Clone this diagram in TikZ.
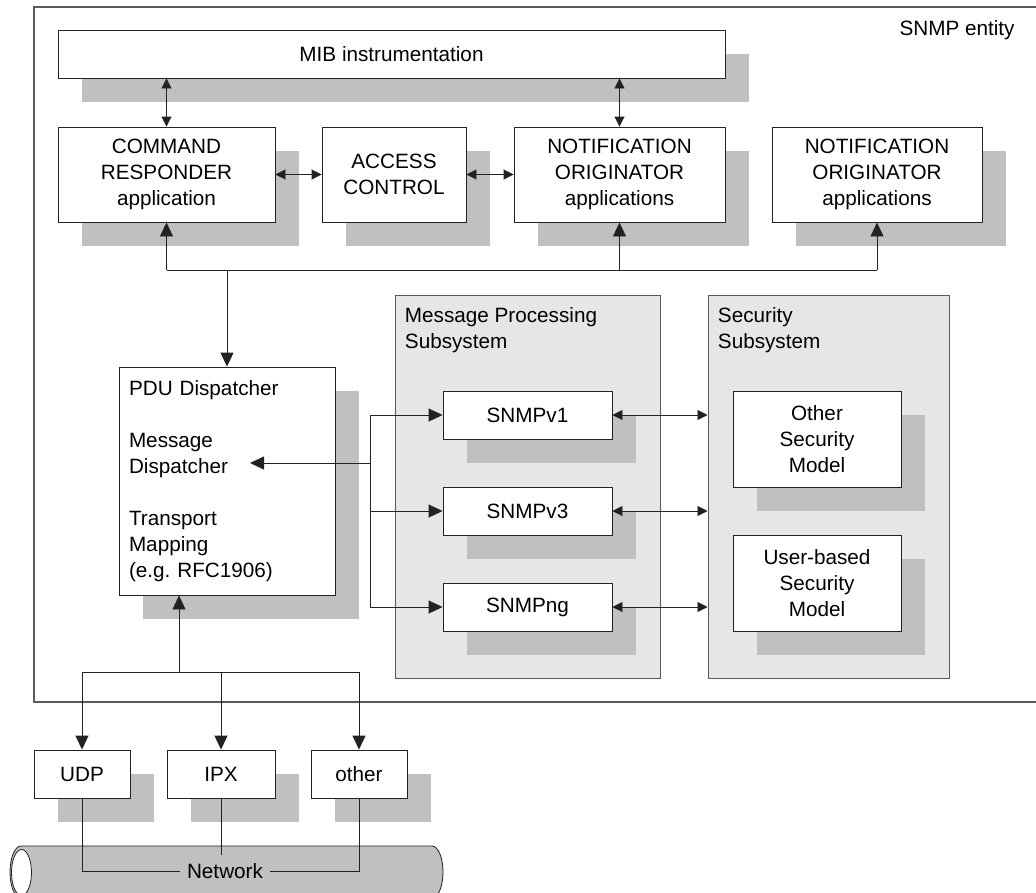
\documentclass[tikz,border=0pt]{standalone}
\usepackage{fontspec}
\setmainfont{Liberation Sans}
\usetikzlibrary{arrows.meta,shadows}
\definecolor{shadegray}{HTML}{C0C0C0}
\definecolor{subfill}{HTML}{E6E6E6}
\definecolor{framegray}{HTML}{5A5A5A}
\definecolor{ink}{HTML}{222222}
\frenchspacing
\begin{document}
\begin{tikzpicture}[x=1pt,y=-1pt,
  font=\fontsize{20.7}{26}\selectfont,
  line width=0.9pt, draw=ink,
  box/.style={draw=ink, fill=white, rectangle, inner sep=0pt, align=center,
    general shadow={fill=shadegray, draw=none, shadow xshift=24pt, shadow yshift=-24pt}},
  subsys/.style={draw=framegray, fill=subfill, rectangle, inner sep=0pt, line width=1pt},
  big/.style={-{Triangle[length=14pt,width=13pt]}},
  dbl/.style={{Triangle[length=10pt,width=10pt]}-{Triangle[length=10pt,width=10pt]}},
  lbl/.style={inner sep=0pt, align=left}
]
\useasboundingbox (0,0) rectangle (1036,892);
\clip (0,0) rectangle (1036,892);
\fill[white] (0,0) rectangle (1036,892);

% SNMP entity frame
\draw[framegray, line width=1.3pt] (34,7) rectangle (1060,702);
\node[anchor=base east, inner sep=0pt] (entlabel) at (1015,35) {SNMP entity};

% top row
\node[box, minimum width=667pt, minimum height=48pt] (mib) at (391.5,54) {MIB instrumentation};
\node[box, minimum width=217pt, minimum height=95pt] (cr) at (166.5,174.5) {COMMAND\\RESPONDER\\application};
\node[box, minimum width=144pt, minimum height=95pt] (ac) at (394,174.5) {ACCESS\\CONTROL};
\node[box, minimum width=211pt, minimum height=95pt] (no1) at (619.5,174.5) {NOTIFICATION\\ORIGINATOR\\applications};
\node[box, minimum width=210pt, minimum height=95pt] (no2) at (877,174.5) {NOTIFICATION\\ORIGINATOR\\applications};

% subsystems
\node[subsys, minimum width=265pt, minimum height=383pt] (mp) at (527.5,486.5) {};
\node[lbl, anchor=north west] (mplabel) at ([shift={(10pt,-13pt)}]mp.north west) {Message Processing\\Subsystem};
\node[subsys, minimum width=241pt, minimum height=383pt] (ss) at (828.5,486.5) {};
\node[lbl, anchor=north west] (sslabel) at ([shift={(10pt,-13pt)}]ss.north west) {Security\\Subsystem};

% PDU dispatcher
\node[box, minimum width=216pt, minimum height=228pt, text width=196pt, align=left, inner xsep=10pt] (pdu) at (227,481)
  {PDU Dispatcher\\[26pt]Message\\Dispatcher\\[26pt]Transport\\Mapping\\(e.g.\ RFC1906)};

% message processing models
\node[box, minimum width=169pt, minimum height=48pt] (v1) at (527.5,415) {SNMPv1};
\node[box, minimum width=169pt, minimum height=48pt] (v3) at (527.5,511) {SNMPv3};
\node[box, minimum width=169pt, minimum height=48pt] (ng) at (527.5,607) {SNMPng};

% security models
\node[box, minimum width=168pt, minimum height=96pt] (osm) at (817,439) {Other\\Security\\Model};
\node[box, minimum width=168pt, minimum height=96pt] (usm) at (817,583) {User-based\\Security\\Model};

% transports
\node[box, minimum width=96pt, minimum height=48pt] (udp) at (82,774) {UDP};
\node[box, minimum width=108pt, minimum height=48pt] (ipx) at (221,774) {IPX};
\node[box, minimum width=96pt, minimum height=48pt] (oth) at (359,774) {other};

% network cylinder
\filldraw[fill=shadegray, draw=ink, line width=0.8pt]
  (21,846) -- (432,846) arc[start angle=90, end angle=-90, x radius=11pt, y radius=26pt]
  -- (21,898) arc[start angle=270, end angle=90, x radius=11pt, y radius=26pt] -- cycle;
\filldraw[fill=white, draw=ink, line width=0.8pt] (21.5,872.5) ellipse[x radius=10pt, y radius=23pt];
\node[inner xsep=7pt, inner ysep=8pt] (net) at (225,871) {Network};

% connectors: top
\draw[dbl] (mib.south -| cr.north) -- (cr.north);
\draw[dbl] (mib.south -| no1.north) -- (no1.north);
\draw[dbl] (cr.east) -- (ac.west);
\draw[dbl] (ac.east) -- (no1.west);

\coordinate (bus) at (0,270);
\draw (cr.south |- bus) -- (no2.south |- bus);
\draw[big] (cr.south |- bus) -- (cr.south);
\draw[big] (no1.south |- bus) -- (no1.south);
\draw[big] (no2.south |- bus) -- (no2.south);
\draw[big] (pdu.north |- bus) -- (pdu.north);

% dispatcher <-> message processing
\coordinate (mdtip) at (250,463);
\coordinate (branch) at (370,463);
\draw (branch |- v1.west) -- (branch |- ng.west);
\draw[big] (branch) -- (mdtip);
\draw[big] (branch |- v1.west) -- (v1.west);
\draw[big] (branch |- v3.west) -- (v3.west);
\draw[big] (branch |- ng.west) -- (ng.west);

% message processing <-> security
\draw[dbl] (v1.east) -- (v1.east -| ss.west);
\draw[dbl] (v3.east) -- (v3.east -| ss.west);
\draw[dbl] (ng.east) -- (ng.east -| ss.west);

% transports
\coordinate (tbus) at (0,672);
\coordinate (pduin) at ([xshift=-48pt]pdu.south);
\draw (udp.north |- tbus) -- (oth.north |- tbus);
\draw[big] (pduin |- tbus) -- (pduin);
\draw[big] (udp.north |- tbus) -- (udp.north);
\draw[big] (ipx.north |- tbus) -- (ipx.north);
\draw[big] (oth.north |- tbus) -- (oth.north);

% network links
\draw (udp.south) |- (net.west);
\draw (ipx.south) -- (ipx.south |- net.north);
\draw (oth.south) |- (net.east);
\end{tikzpicture}
\end{document}
